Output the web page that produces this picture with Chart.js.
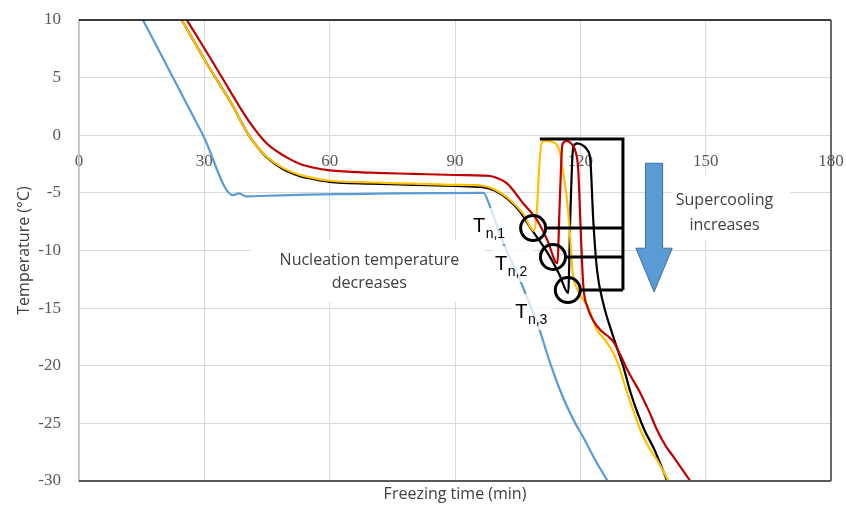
<!DOCTYPE html>
<html>
<head>
<meta charset="utf-8">
<script src="https://cdn.jsdelivr.net/npm/chart.js@4.4.1/dist/chart.umd.min.js"></script>
<style>
  html, body { margin: 0; padding: 0; background: #fff; }
</style>
</head>
<body>
<canvas id="myChart" width="846" height="505"></canvas>
<script>
// freezing curves: time (min) / temperature (°C)
const blueTime = [15.3, 29.7, 36.9, 38.3, 40.0, 45, 55, 65, 75, 85, 96.8, 98.4, 100, 101.6, 103.6, 105.6, 107.7, 109.7, 112.8, 114.8, 116.9, 118.8, 120.7, 123.6, 126.7];
const blueTemp = [10, 0, -5.2, -5.05, -5.3, -5.25, -5.15, -5.1, -5.05, -5.02, -5.0, -6.2, -7.8, -9.4, -11.0, -12.6, -14.5, -16.3, -19.8, -21.8, -23.6, -25.0, -26.2, -28.2, -30.1];

const redTime = [25.8, 30, 33, 36.9, 38.9, 40.9, 44.9, 48.9, 52.9, 56, 60, 70, 80, 90, 96.8, 99.2, 102.5, 106.3, 109.7, 112.1, 114.5, 115.1, 115.7, 116.7, 118.0, 119.0, 119.5, 120.0, 120.7, 121.7, 123.0, 124.8, 126.5, 127.9, 129.5, 131.3, 134.4, 136.5, 138.4, 140.5, 142.3, 146.3];
const redTemp = [10, 7.55, 5.75, 3.4, 2.2, 1.1, -0.7, -1.75, -2.5, -2.8, -3.05, -3.25, -3.35, -3.45, -3.5, -3.6, -4.2, -5.9, -7.4, -9.1, -11.1, -5.5, -0.8, -0.5, -0.8, -1.6, -3.0, -7.4, -13.0, -14.9, -16.0, -16.9, -17.4, -17.9, -19.0, -20.4, -22.4, -24.0, -25.6, -27.0, -27.9, -30];

const yellowTime = [24.6, 30, 33, 36.9, 38.9, 40.9, 42.9, 44.9, 48.9, 52.9, 56, 60, 70, 80, 90, 96.7, 99.5, 102.5, 106.3, 108.9, 109.6, 110.2, 110.8, 112.0, 113.5, 114.5, 115.2, 116.0, 116.9, 117.6, 118.1, 119.3, 120.7, 121.7, 124.0, 126.0, 127.9, 129.2, 130.3, 132.3, 134.4, 136.4, 138.4, 141.1];
const yellowTemp = [10, 6.6, 4.8, 2.5, 1.1, -0.15, -1.1, -1.85, -2.85, -3.45, -3.7, -3.95, -4.1, -4.2, -4.3, -4.38, -4.7, -5.4, -6.8, -8.3, -6.5, -2.5, -0.6, -0.5, -0.6, -0.9, -1.6, -3.5, -5.9, -9.0, -11.7, -13.4, -14.3, -14.8, -16.9, -17.8, -18.9, -20.0, -21.3, -23.5, -25.6, -27.1, -28.2, -30];

const blackTime = [24.6, 30, 33, 36.9, 38.9, 40.9, 42.9, 44.9, 48.9, 52.9, 56, 60, 70, 80, 90, 96.7, 99.5, 102.5, 105.5, 108.0, 110.5, 112.8, 115.0, 117.1, 117.6, 118.3, 119.3, 120.7, 121.7, 122.4, 123.1, 124.0, 125.5, 127.9, 130.3, 132.0, 133.7, 135.5, 137.5, 140.8];
const blackTemp = [10, 6.6, 4.8, 2.5, 1.1, -0.15, -1.1, -1.9, -2.95, -3.55, -3.8, -4.05, -4.2, -4.3, -4.4, -4.5, -4.8, -5.5, -6.6, -8.0, -9.3, -10.6, -12.1, -13.7, -7.0, -1.0, -0.7, -0.9, -1.3, -2.2, -7.4, -11.7, -14.6, -17.5, -20.1, -22.3, -24.1, -25.7, -27.1, -30];

const xTicks = [0, 30, 60, 90, 120, 150, 180];
const yTicks = [10, 5, 0, -5, -10, -15, -20, -25, -30];

// nucleation points T n,1..3 (time, temp)
const nucTime = [108.7, 113.45, 117.0];
const nucTemp = [-8.05, -10.56, -13.43];
const nucNames = ['n,1', 'n,2', 'n,3'];

function toPoints(xs, ys) {
    return xs.map((v, i) => ({ x: v, y: ys[i] }));
}

function series(data, color) {
    return {
        data: data,
        borderColor: color,
        borderWidth: 2.2,
        pointRadius: 0,
        fill: false,
        cubicInterpolationMode: 'monotone'
    };
}

// drop the extra space chart.js keeps for overhanging tick labels
function noLabelPadding(s) {
    s.paddingTop = 0;
    s.paddingBottom = 0;
    s.paddingLeft = 0;
    s.paddingRight = 0;
}

const annotations = {
    id: 'annotations',
    afterDatasetsDraw(chart) {
        const ctx = chart.ctx;
        const xs = chart.scales.x;
        const ys = chart.scales.y;
        const px = v => xs.getPixelForValue(v);
        const py = v => ys.getPixelForValue(v);
        ctx.save();

        // frame lines
        ctx.lineWidth = 1.5;
        ctx.strokeStyle = '#000';
        ctx.beginPath(); ctx.moveTo(px(0), py(10)); ctx.lineTo(px(180), py(10)); ctx.stroke();
        ctx.strokeStyle = '#404040';
        ctx.beginPath(); ctx.moveTo(px(180), py(10)); ctx.lineTo(px(180), py(-30)); ctx.stroke();
        ctx.lineWidth = 2;
        ctx.strokeStyle = '#595959';
        ctx.beginPath(); ctx.moveTo(px(0), py(-30)); ctx.lineTo(px(180), py(-30)); ctx.stroke();

        // text boxes
        ctx.fillStyle = '#fff';
        ctx.fillRect(px(41), py(-9.1), px(97.2) - px(41), py(-14.5) - py(-9.1));
        ctx.fillRect(px(142), py(-3.47), px(170.3) - px(142), py(-9.1) - py(-3.47));

        ctx.fillStyle = '#404040';
        ctx.font = '16px "Open Sans"';
        ctx.textAlign = 'center';
        ctx.textBaseline = 'middle';
        ctx.fillText('Nucleation temperature', px(69.5), py(-10.85));
        ctx.fillText('decreases', px(69.5), py(-12.85));
        ctx.fillText('Supercooling', px(154.5), py(-5.64));
        ctx.fillText('increases', px(154.5), py(-7.8));

        // T n labels
        const labelX = [94.3, 99.6, 104.4];
        const labelY = [-8.39, -11.69, -15.86];
        ctx.textAlign = 'left';
        ctx.textBaseline = 'alphabetic';
        for (let i = 0; i < 3; i++) {
            const lx = px(labelX[i]);
            const ly = py(labelY[i]);
            ctx.fillStyle = 'rgba(255,255,255,0.75)';
            ctx.fillRect(lx - 3, ly - 24, 42, 36);
            ctx.fillStyle = '#000';
            ctx.font = '20px "Liberation Sans"';
            ctx.fillText('T', lx, ly);
            const w = ctx.measureText('T').width;
            ctx.font = '14px "Liberation Sans"';
            ctx.fillText(nucNames[i], lx + w + 0.5, ly + 6);
        }

        // circles and bracket
        const r = 12.5;
        ctx.strokeStyle = '#000';
        ctx.lineWidth = 3;
        for (let i = 0; i < 3; i++) {
            ctx.beginPath();
            ctx.arc(px(nucTime[i]), py(nucTemp[i]), r, 0, Math.PI * 2);
            ctx.stroke();
        }
        ctx.beginPath();
        ctx.moveTo(px(110.3), py(-0.33));
        ctx.lineTo(px(130.2), py(-0.33));
        ctx.lineTo(px(130.2), py(nucTemp[2]));
        for (let i = 0; i < 3; i++) {
            ctx.moveTo(px(nucTime[i]) + r, py(nucTemp[i]));
            ctx.lineTo(px(130.2), py(nucTemp[i]));
        }
        ctx.stroke();

        // arrow
        ctx.beginPath();
        ctx.moveTo(px(135.6), py(-2.43));
        ctx.lineTo(px(139.7), py(-2.43));
        ctx.lineTo(px(139.7), py(-9.8));
        ctx.lineTo(px(142.0), py(-9.8));
        ctx.lineTo(px(137.65), py(-13.6));
        ctx.lineTo(px(133.3), py(-9.8));
        ctx.lineTo(px(135.6), py(-9.8));
        ctx.closePath();
        ctx.fillStyle = '#5B9BD5';
        ctx.fill();
        ctx.lineWidth = 1;
        ctx.strokeStyle = '#41719C';
        ctx.stroke();

        // x axis title
        ctx.fillStyle = '#404040';
        ctx.font = '16px "Open Sans"';
        ctx.textAlign = 'center';
        ctx.textBaseline = 'middle';
        ctx.fillText('Freezing time (min)', (chart.chartArea.left + chart.chartArea.right) / 2, 494);

        ctx.restore();
    }
};

const ctx = document.getElementById('myChart').getContext('2d');

const myChart = new Chart(ctx, {
    type: 'line',
    data: {
        datasets: [
            series(toPoints(redTime, redTemp), '#C00000'),
            series(toPoints(yellowTime, yellowTemp), '#FFC000'),
            series(toPoints(blackTime, blackTemp), '#000000'),
            series(toPoints(blueTime, blueTemp), '#5B9BD5')
        ]
    },
    options: {
        responsive: false,
        animation: false,
        layout: { padding: { left: 0, right: 15, top: 20, bottom: 24 } },
        plugins: {
            legend: { display: false },
            tooltip: { enabled: false }
        },
        scales: {
            x: {
                type: 'linear',
                min: 0,
                max: 180,
                position: { y: 0 },
                afterBuildTicks: s => { s.ticks = xTicks.map(v => ({ value: v })); },
                afterFit: noLabelPadding,
                ticks: {
                    autoSkip: false,
                    maxRotation: 0,
                    padding: 16,
                    color: '#595959',
                    font: { family: '"Liberation Serif"', size: 17 }
                },
                grid: { color: '#d9d9d9', lineWidth: 1, drawTicks: false },
                border: { display: false }
            },
            y: {
                min: -30,
                max: 10,
                afterBuildTicks: s => { s.ticks = yTicks.map(v => ({ value: v })); },
                afterFit: s => { s.width = 79; noLabelPadding(s); },
                ticks: {
                    padding: 18,
                    color: '#595959',
                    font: { family: '"Liberation Serif"', size: 17 }
                },
                title: {
                    display: true,
                    text: 'Temperature (°C)',
                    color: '#404040',
                    font: { family: '"Open Sans"', size: 16 },
                    padding: { top: 15, bottom: 0 }
                },
                grid: { color: '#d9d9d9', lineWidth: 1, drawTicks: false },
                border: { color: '#bfbfbf', width: 1.5 }
            }
        }
    },
    plugins: [annotations]
});
</script>
</body>
</html>
